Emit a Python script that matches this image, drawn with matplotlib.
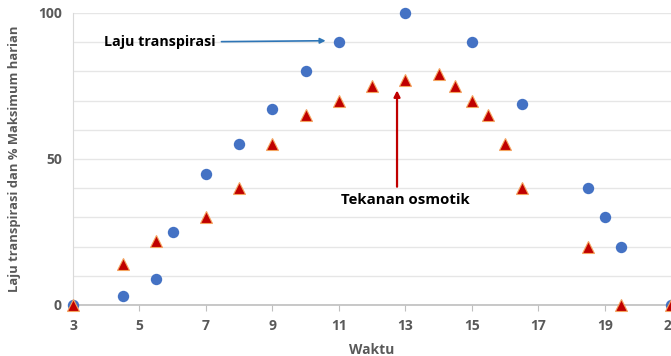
import matplotlib
matplotlib.use("Agg")
import matplotlib.pyplot as plt
import numpy as np

# Laju transpirasi (% of daily maximum) over the day
waktu_transpirasi = [3, 4.5, 5.5, 6, 7, 8, 9, 10, 11, 13, 15, 16.5, 18.5, 19, 19.5, 21]
laju_transpirasi = [0, 3, 9, 25, 45, 55, 67, 80, 90, 100, 90, 69, 40, 30, 20, 0]

# Tekanan osmotik (% of daily maximum) over the day
waktu_osmotik = [3, 4.5, 5.5, 7, 8, 9, 10, 11, 12, 13, 14, 14.5, 15, 15.5, 16, 16.5, 18.5, 19.5, 21]
tekanan_osmotik = [0, 14, 22, 30, 40, 55, 65, 70, 75, 77, 79, 75, 70, 65, 55, 40, 20, 0, 0]

x_ticks = [3, 5, 7, 9, 11, 13, 15, 17, 19, 21]
y_ticks = [0, 50, 100]

label_color = "#595959"
plt.rcParams["font.family"] = ["Open Sans", "DejaVu Sans"]

fig = plt.figure(figsize=(6.71, 3.56), dpi=100)
ax = fig.add_axes([0.1088, 0.1433, 0.8915, 0.8202])

ax.plot(waktu_transpirasi, laju_transpirasi, linestyle="none", marker="o",
        markersize=8.2, color="#4472C4", markeredgewidth=0, clip_on=False, zorder=3)
ax.plot(waktu_osmotik, tekanan_osmotik, linestyle="none", marker="^",
        markersize=8.2, markerfacecolor="#C00000", markeredgecolor="#F4A460",
        markeredgewidth=0.8, clip_on=False, zorder=4)

ax.set_xlim(3, 21)
ax.set_ylim(0, 100)
ax.set_xticks(x_ticks)
ax.set_yticks(y_ticks)
ax.set_yticks(np.arange(0, 101, 10), minor=True)
ax.grid(True, which="both", axis="y", color="#E6E6E6", linewidth=1)
ax.set_axisbelow(True)

for side in ["top", "right"]:
    ax.spines[side].set_visible(False)
ax.spines["left"].set_color("#D9D9D9")
ax.spines["bottom"].set_color("#BFBFBF")
ax.spines["bottom"].set_linewidth(1.2)

ax.tick_params(axis="x", length=4, color="#BFBFBF", pad=6,
               labelsize=10, labelcolor=label_color)
ax.tick_params(axis="y", which="both", length=0, pad=8,
               labelsize=10, labelcolor=label_color)
for lbl in ax.get_xticklabels() + ax.get_yticklabels():
    lbl.set_fontweight("bold")

ax.set_xlabel("Waktu", fontsize=10, fontweight="bold", color=label_color, labelpad=7)
ax.set_ylabel("Laju transpirasi dan % Maksimum harian", fontsize=9.4,
              fontweight="bold", color=label_color, labelpad=12)

ax.annotate("Laju transpirasi", xy=(10.6, 90.5), xytext=(7.3, 90),
            ha="right", va="center", fontsize=10.3, fontweight="bold", color="black",
            arrowprops=dict(arrowstyle="-|>", color="#2E75B6", lw=1.2,
                            mutation_scale=8, shrinkA=2, shrinkB=0))
ax.annotate("", xy=(12.75, 73.5), xytext=(12.75, 40.5),
            arrowprops=dict(arrowstyle="-|>", color="#C00000", lw=1.6,
                            mutation_scale=9, shrinkA=0, shrinkB=0))
ax.text(13.0, 36, "Tekanan osmotik", ha="center", va="center",
        fontsize=10.8, fontweight="bold", color="black")

fig.savefig("out.png", dpi=100)
